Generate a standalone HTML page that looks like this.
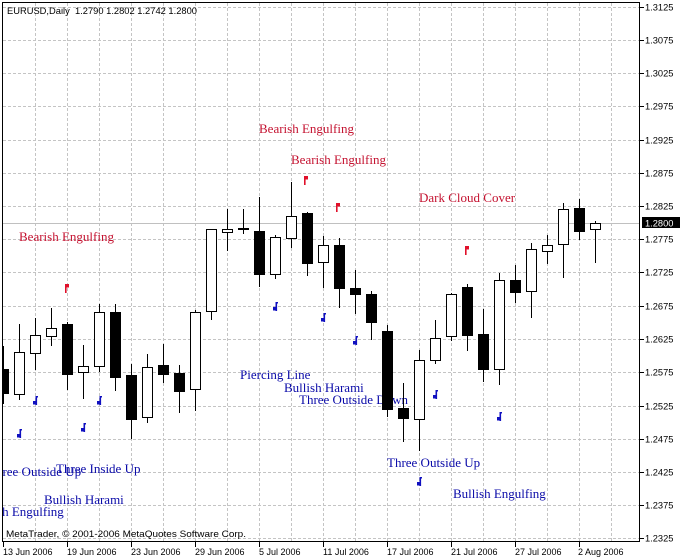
<!DOCTYPE html>
<html><head><meta charset="utf-8"><style>
html,body{margin:0;padding:0;background:#fff;}
svg{display:block;}
.ax{font-family:"Liberation Sans",sans-serif;font-size:9.3px;fill:#000;}
.ann{font-family:"Liberation Serif",serif;font-size:13px;}
.r{fill:#c41230;}
.b{fill:#0a0aa8;}
.pre{white-space:pre;}
</style></head><body>
<svg width="680" height="560" viewBox="0 0 680 560" xmlns="http://www.w3.org/2000/svg">
<defs><clipPath id="pa"><rect x="3" y="3" width="636" height="538"/></clipPath></defs>
<rect x="0" y="0" width="680" height="560" fill="#fff"/>
<g clip-path="url(#pa)">
<g stroke="#c4c4c4" stroke-width="1" stroke-dasharray="3,2" fill="none">
<line x1="3" y1="7.5" x2="639" y2="7.5"/><line x1="3" y1="40.5" x2="639" y2="40.5"/><line x1="3" y1="73.5" x2="639" y2="73.5"/><line x1="3" y1="106.5" x2="639" y2="106.5"/><line x1="3" y1="140.5" x2="639" y2="140.5"/><line x1="3" y1="173.5" x2="639" y2="173.5"/><line x1="3" y1="206.5" x2="639" y2="206.5"/><line x1="3" y1="239.5" x2="639" y2="239.5"/><line x1="3" y1="272.5" x2="639" y2="272.5"/><line x1="3" y1="306.5" x2="639" y2="306.5"/><line x1="3" y1="339.5" x2="639" y2="339.5"/><line x1="3" y1="372.5" x2="639" y2="372.5"/><line x1="3" y1="406.5" x2="639" y2="406.5"/><line x1="3" y1="439.5" x2="639" y2="439.5"/><line x1="3" y1="472.5" x2="639" y2="472.5"/><line x1="3" y1="505.5" x2="639" y2="505.5"/><line x1="3" y1="538.5" x2="639" y2="538.5"/>
<line x1="35.5" y1="3" x2="35.5" y2="541"/><line x1="67.5" y1="3" x2="67.5" y2="541"/><line x1="99.5" y1="3" x2="99.5" y2="541"/><line x1="131.5" y1="3" x2="131.5" y2="541"/><line x1="163.5" y1="3" x2="163.5" y2="541"/><line x1="195.5" y1="3" x2="195.5" y2="541"/><line x1="227.5" y1="3" x2="227.5" y2="541"/><line x1="259.5" y1="3" x2="259.5" y2="541"/><line x1="291.5" y1="3" x2="291.5" y2="541"/><line x1="323.5" y1="3" x2="323.5" y2="541"/><line x1="355.5" y1="3" x2="355.5" y2="541"/><line x1="387.5" y1="3" x2="387.5" y2="541"/><line x1="419.5" y1="3" x2="419.5" y2="541"/><line x1="451.5" y1="3" x2="451.5" y2="541"/><line x1="483.5" y1="3" x2="483.5" y2="541"/><line x1="515.5" y1="3" x2="515.5" y2="541"/><line x1="547.5" y1="3" x2="547.5" y2="541"/><line x1="579.5" y1="3" x2="579.5" y2="541"/><line x1="611.5" y1="3" x2="611.5" y2="541"/>
</g>
<line x1="3" y1="223.5" x2="639" y2="223.5" stroke="#c0c0c0" stroke-width="1"/>

<text class="ann r" x="19" y="241">Bearish Engulfing</text>
<text class="ann r" x="259" y="133">Bearish Engulfing</text>
<text class="ann r" x="291" y="164">Bearish Engulfing</text>
<text class="ann r" x="419" y="202">Dark Cloud Cover</text>
<text class="ann b" x="240" y="379">Piercing Line</text>
<text class="ann b" x="284" y="392">Bullish Harami</text>
<text class="ann b" x="299" y="404">Three Outside Down</text>
<text class="ann b" x="-12" y="476">Three Outside Up</text>
<text class="ann b" x="56" y="473">Three Inside Up</text>
<text class="ann b" x="44" y="504">Bullish Harami</text>
<text class="ann b" x="-29" y="516">Bullish Engulfing</text>
<text class="ann b" x="387" y="467">Three Outside Up</text>
<text class="ann b" x="453" y="498">Bullish Engulfing</text>

<g stroke="#000" stroke-width="1">
<line x1="3.5" y1="346" x2="3.5" y2="404"/><rect x="-1.5" y="369.5" width="10" height="24" fill="#000"/>
<line x1="19.5" y1="324" x2="19.5" y2="400"/><rect x="14.5" y="352.5" width="10" height="42" fill="#fff"/>
<line x1="35.5" y1="318" x2="35.5" y2="370"/><rect x="30.5" y="335.5" width="10" height="18" fill="#fff"/>
<line x1="51.5" y1="308" x2="51.5" y2="346"/><rect x="46.5" y="328.5" width="10" height="8" fill="#fff"/>
<line x1="67.5" y1="322" x2="67.5" y2="390"/><rect x="62.5" y="324.5" width="10" height="50" fill="#000"/>
<line x1="83.5" y1="345" x2="83.5" y2="399"/><rect x="78.5" y="366.5" width="10" height="6" fill="#fff"/>
<line x1="99.5" y1="304" x2="99.5" y2="372"/><rect x="94.5" y="312.5" width="10" height="54" fill="#fff"/>
<line x1="115.5" y1="304" x2="115.5" y2="391"/><rect x="110.5" y="312.5" width="10" height="65" fill="#000"/>
<line x1="131.5" y1="364" x2="131.5" y2="439"/><rect x="126.5" y="375.5" width="10" height="44" fill="#000"/>
<line x1="147.5" y1="354" x2="147.5" y2="423"/><rect x="142.5" y="367.5" width="10" height="50" fill="#fff"/>
<line x1="163.5" y1="344" x2="163.5" y2="383"/><rect x="158.5" y="365.5" width="10" height="9" fill="#000"/>
<line x1="179.5" y1="365" x2="179.5" y2="413"/><rect x="174.5" y="373.5" width="10" height="18" fill="#000"/>
<line x1="195.5" y1="310" x2="195.5" y2="411"/><rect x="190.5" y="312.5" width="10" height="77" fill="#fff"/>
<line x1="211.5" y1="229" x2="211.5" y2="320"/><rect x="206.5" y="229.5" width="10" height="82" fill="#fff"/>
<line x1="227.5" y1="209" x2="227.5" y2="251"/><rect x="222.5" y="229.5" width="10" height="3" fill="#fff"/>
<line x1="243.5" y1="209" x2="243.5" y2="234"/><rect x="238.5" y="228.5" width="10" height="1" fill="#000"/>
<line x1="259.5" y1="197" x2="259.5" y2="287"/><rect x="254.5" y="231.5" width="10" height="43" fill="#000"/>
<line x1="275.5" y1="235" x2="275.5" y2="279"/><rect x="270.5" y="237.5" width="10" height="37" fill="#fff"/>
<line x1="291.5" y1="182" x2="291.5" y2="248"/><rect x="286.5" y="216.5" width="10" height="22" fill="#fff"/>
<line x1="307.5" y1="212" x2="307.5" y2="276"/><rect x="302.5" y="213.5" width="10" height="50" fill="#000"/>
<line x1="323.5" y1="236" x2="323.5" y2="288"/><rect x="318.5" y="245.5" width="10" height="17" fill="#fff"/>
<line x1="339.5" y1="238" x2="339.5" y2="308"/><rect x="334.5" y="245.5" width="10" height="43" fill="#000"/>
<line x1="355.5" y1="270" x2="355.5" y2="314"/><rect x="350.5" y="288.5" width="10" height="6" fill="#000"/>
<line x1="371.5" y1="291" x2="371.5" y2="340"/><rect x="366.5" y="294.5" width="10" height="28" fill="#000"/>
<line x1="387.5" y1="325" x2="387.5" y2="417"/><rect x="382.5" y="331.5" width="10" height="78" fill="#000"/>
<line x1="403.5" y1="383" x2="403.5" y2="442"/><rect x="398.5" y="408.5" width="10" height="10" fill="#000"/>
<line x1="419.5" y1="350" x2="419.5" y2="451"/><rect x="414.5" y="360.5" width="10" height="59" fill="#fff"/>
<line x1="435.5" y1="320" x2="435.5" y2="364"/><rect x="430.5" y="338.5" width="10" height="22" fill="#fff"/>
<line x1="451.5" y1="293" x2="451.5" y2="341"/><rect x="446.5" y="294.5" width="10" height="42" fill="#fff"/>
<line x1="467.5" y1="284" x2="467.5" y2="351"/><rect x="462.5" y="287.5" width="10" height="48" fill="#000"/>
<line x1="483.5" y1="309" x2="483.5" y2="382"/><rect x="478.5" y="334.5" width="10" height="35" fill="#000"/>
<line x1="499.5" y1="273" x2="499.5" y2="385"/><rect x="494.5" y="280.5" width="10" height="89" fill="#fff"/>
<line x1="515.5" y1="265" x2="515.5" y2="303"/><rect x="510.5" y="280.5" width="10" height="12" fill="#000"/>
<line x1="531.5" y1="243" x2="531.5" y2="318"/><rect x="526.5" y="249.5" width="10" height="42" fill="#fff"/>
<line x1="547.5" y1="235" x2="547.5" y2="264"/><rect x="542.5" y="245.5" width="10" height="6" fill="#fff"/>
<line x1="563.5" y1="203" x2="563.5" y2="278"/><rect x="558.5" y="209.5" width="10" height="35" fill="#fff"/>
<line x1="579.5" y1="199" x2="579.5" y2="240"/><rect x="574.5" y="208.5" width="10" height="23" fill="#000"/>
<line x1="595.5" y1="221" x2="595.5" y2="263"/><rect x="590.5" y="223.5" width="10" height="6" fill="#fff"/>
</g>

<g fill="#e0102a">
<g transform="translate(67,288)"><rect x="-2" y="-4" width="1.6" height="9"/><rect x="-1" y="-4" width="3" height="3.5"/></g>
<g transform="translate(306,180)"><rect x="-2" y="-4" width="1.6" height="9"/><rect x="-1" y="-4" width="3" height="3.5"/></g>
<g transform="translate(338,207)"><rect x="-2" y="-4" width="1.6" height="9"/><rect x="-1" y="-4" width="3" height="3.5"/></g>
<g transform="translate(467,250)"><rect x="-2" y="-4" width="1.6" height="9"/><rect x="-1" y="-4" width="3" height="3.5"/></g>
</g>
<g fill="#1010c0">
<g transform="translate(19,434)"><rect x="0.5" y="-5" width="1.6" height="9"/><rect x="-2" y="0" width="3.5" height="3.5"/><rect x="1.5" y="-5" width="1.5" height="1.5"/></g>
<g transform="translate(35,401)"><rect x="0.5" y="-5" width="1.6" height="9"/><rect x="-2" y="0" width="3.5" height="3.5"/><rect x="1.5" y="-5" width="1.5" height="1.5"/></g>
<g transform="translate(83,428)"><rect x="0.5" y="-5" width="1.6" height="9"/><rect x="-2" y="0" width="3.5" height="3.5"/><rect x="1.5" y="-5" width="1.5" height="1.5"/></g>
<g transform="translate(99,401)"><rect x="0.5" y="-5" width="1.6" height="9"/><rect x="-2" y="0" width="3.5" height="3.5"/><rect x="1.5" y="-5" width="1.5" height="1.5"/></g>
<g transform="translate(275,307)"><rect x="0.5" y="-5" width="1.6" height="9"/><rect x="-2" y="0" width="3.5" height="3.5"/><rect x="1.5" y="-5" width="1.5" height="1.5"/></g>
<g transform="translate(323,318)"><rect x="0.5" y="-5" width="1.6" height="9"/><rect x="-2" y="0" width="3.5" height="3.5"/><rect x="1.5" y="-5" width="1.5" height="1.5"/></g>
<g transform="translate(355,341)"><rect x="0.5" y="-5" width="1.6" height="9"/><rect x="-2" y="0" width="3.5" height="3.5"/><rect x="1.5" y="-5" width="1.5" height="1.5"/></g>
<g transform="translate(419,482)"><rect x="0.5" y="-5" width="1.6" height="9"/><rect x="-2" y="0" width="3.5" height="3.5"/><rect x="1.5" y="-5" width="1.5" height="1.5"/></g>
<g transform="translate(435,395)"><rect x="0.5" y="-5" width="1.6" height="9"/><rect x="-2" y="0" width="3.5" height="3.5"/><rect x="1.5" y="-5" width="1.5" height="1.5"/></g>
<g transform="translate(499,417)"><rect x="0.5" y="-5" width="1.6" height="9"/><rect x="-2" y="0" width="3.5" height="3.5"/><rect x="1.5" y="-5" width="1.5" height="1.5"/></g>
</g>

<text class="ax pre" x="7" y="14" textLength="190" lengthAdjust="spacingAndGlyphs" xml:space="preserve">EURUSD,Daily  1.2790 1.2802 1.2742 1.2800</text>
<text class="ax" x="6" y="537" textLength="240" lengthAdjust="spacingAndGlyphs">MetaTrader, © 2001-2006 MetaQuotes Software Corp.</text>
</g>

<rect x="2.5" y="2.5" width="637" height="539" fill="none" stroke="#000" stroke-width="1"/>

<g stroke="#000" stroke-width="1">
<line x1="640" y1="7.5" x2="644" y2="7.5"/><line x1="640" y1="40.5" x2="644" y2="40.5"/><line x1="640" y1="73.5" x2="644" y2="73.5"/><line x1="640" y1="106.5" x2="644" y2="106.5"/><line x1="640" y1="140.5" x2="644" y2="140.5"/><line x1="640" y1="173.5" x2="644" y2="173.5"/><line x1="640" y1="206.5" x2="644" y2="206.5"/><line x1="640" y1="239.5" x2="644" y2="239.5"/><line x1="640" y1="272.5" x2="644" y2="272.5"/><line x1="640" y1="306.5" x2="644" y2="306.5"/><line x1="640" y1="339.5" x2="644" y2="339.5"/><line x1="640" y1="372.5" x2="644" y2="372.5"/><line x1="640" y1="406.5" x2="644" y2="406.5"/><line x1="640" y1="439.5" x2="644" y2="439.5"/><line x1="640" y1="472.5" x2="644" y2="472.5"/><line x1="640" y1="505.5" x2="644" y2="505.5"/><line x1="640" y1="538.5" x2="644" y2="538.5"/>
<line x1="3.5" y1="542" x2="3.5" y2="547"/><line x1="67.5" y1="542" x2="67.5" y2="547"/><line x1="131.5" y1="542" x2="131.5" y2="547"/><line x1="195.5" y1="542" x2="195.5" y2="547"/><line x1="259.5" y1="542" x2="259.5" y2="547"/><line x1="323.5" y1="542" x2="323.5" y2="547"/><line x1="387.5" y1="542" x2="387.5" y2="547"/><line x1="451.5" y1="542" x2="451.5" y2="547"/><line x1="515.5" y1="542" x2="515.5" y2="547"/><line x1="579.5" y1="542" x2="579.5" y2="547"/>
</g>

<g class="ax">
<text x="645" y="10.5">1.3125</text>
<text x="645" y="43.5">1.3075</text>
<text x="645" y="76.5">1.3025</text>
<text x="645" y="109.5">1.2975</text>
<text x="645" y="143.5">1.2925</text>
<text x="645" y="176.5">1.2875</text>
<text x="645" y="209.5">1.2825</text>
<text x="645" y="242.5">1.2775</text>
<text x="645" y="275.5">1.2725</text>
<text x="645" y="309.5">1.2675</text>
<text x="645" y="342.5">1.2625</text>
<text x="645" y="375.5">1.2575</text>
<text x="645" y="409.5">1.2525</text>
<text x="645" y="442.5">1.2475</text>
<text x="645" y="475.5">1.2425</text>
<text x="645" y="508.5">1.2375</text>
<text x="645" y="541.5">1.2325</text>
</g>
<rect x="642" y="217" width="38" height="11" fill="#000"/>
<text class="ax" x="645" y="226.5" style="fill:#fff">1.2800</text>

<g class="ax" style="font-size:9px">
<text x="3" y="555">13 Jun 2006</text>
<text x="67" y="555">19 Jun 2006</text>
<text x="131" y="555">23 Jun 2006</text>
<text x="195" y="555">29 Jun 2006</text>
<text x="259" y="555">5 Jul 2006</text>
<text x="323" y="555">11 Jul 2006</text>
<text x="387" y="555">17 Jul 2006</text>
<text x="451" y="555">21 Jul 2006</text>
<text x="515" y="555">27 Jul 2006</text>
<text x="578" y="555">2 Aug 2006</text>
</g>
</svg>
</body></html>
